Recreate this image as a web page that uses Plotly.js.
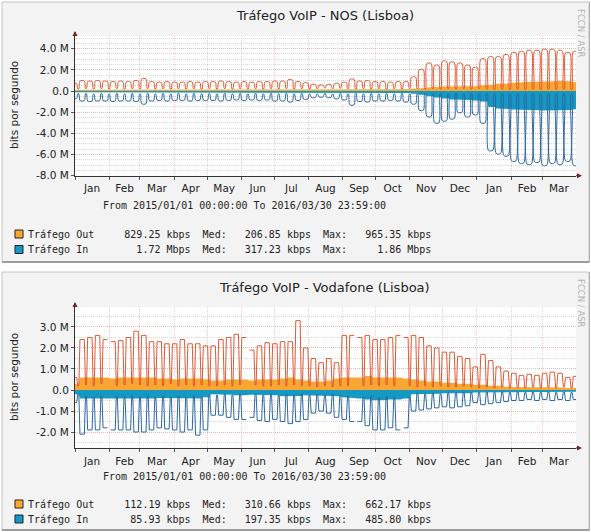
<!DOCTYPE html>
<html><head><meta charset="utf-8">
<script src="https://cdn.plot.ly/plotly-3.0.1.min.js"></script>
<style>html,body{margin:0;padding:0;background:#fff;}#chart{width:591px;height:532px;}</style>
</head><body><div id="chart"></div>
<script>
// ---- week start (Monday) of every week shown ----
const weeks = ['2014-12-29',
 '2015-01-05','2015-01-12','2015-01-19','2015-01-26',
 '2015-02-02','2015-02-09','2015-02-16','2015-02-23',
 '2015-03-02','2015-03-09','2015-03-16','2015-03-23','2015-03-30',
 '2015-04-06','2015-04-13','2015-04-20','2015-04-27',
 '2015-05-04','2015-05-11','2015-05-18','2015-05-25',
 '2015-06-01','2015-06-08','2015-06-15','2015-06-22','2015-06-29',
 '2015-07-06','2015-07-13','2015-07-20','2015-07-27',
 '2015-08-03','2015-08-10','2015-08-17','2015-08-24','2015-08-31',
 '2015-09-07','2015-09-14','2015-09-21','2015-09-28',
 '2015-10-05','2015-10-12','2015-10-19','2015-10-26',
 '2015-11-02','2015-11-09','2015-11-16','2015-11-23','2015-11-30',
 '2015-12-07','2015-12-14','2015-12-21','2015-12-28',
 '2016-01-04','2016-01-11','2016-01-18','2016-01-25',
 '2016-02-01','2016-02-08','2016-02-15','2016-02-22','2016-02-29',
 '2016-03-07','2016-03-14','2016-03-21','2016-03-28'];

// ---- NOS (Mbps) : weekday peak / weekend low of max lines, and average areas ----
const nosOutPeak = [0.7, 0.95,0.9,0.95,0.9, 0.85,0.9,0.85,0.95, 1.15,0.85,0.8,0.85,0.8, 0.8,0.85,0.8,0.85,
 0.85,0.9,0.85,0.8, 0.85,0.8,0.85,0.85,0.9, 0.9,1.05,0.85,0.75, 0.6,0.55,0.6,0.7,0.8, 1.1,0.9,0.95,0.85,
 0.85,0.8,0.85,0.85, 1.3,2.0,2.6,2.4,2.8, 2.7,2.6,2.4,2.2, 3.0,3.2,3.2,3.4, 3.6,3.7,3.8,3.8,3.9, 3.9,3.8,3.6,3.7];
const nosOutLow = [0.2, 0.25,0.2,0.25,0.2, 0.25,0.2,0.25,0.2, 0.25,0.2,0.25,0.2,0.25, 0.2,0.25,0.2,0.25,
 0.2,0.25,0.2,0.25, 0.2,0.25,0.2,0.25,0.2, 0.25,0.2,0.25,0.2, 0.25,0.3,0.25,0.3,0.25, 0.2,0.25,0.2,0.25,
 0.2,0.25,0.2,0.25, 0.25,0.2,0.25,0.2,0.25, 0.2,0.25,0.2,0.25, 0.2,0.15,0.2,0.15, 0.2,0.15,0.2,0.15,0.2, 0.15,0.2,0.15,0.2];
const nosInPeak = [-0.7, -0.9,-0.95,-0.9,-0.9, -0.95,-0.9,-0.9,-0.95, -1.2,-0.9,-0.85,-0.9,-0.85, -0.85,-0.9,-0.85,-0.85,
 -0.85,-0.9,-0.85,-0.8, -0.85,-0.8,-0.85,-0.8,-0.9, -0.9,-1.0,-0.85,-0.75, -0.6,-0.55,-0.6,-0.7,-0.8, -1.3,-0.95,-1.0,-0.9,
 -0.9,-0.85,-0.9,-1.0, -1.2,-1.8,-2.4,-3.0,-2.8, -2.6,-2.0,-2.4,-2.2, -3.0,-5.6,-5.9,-6.1, -6.6,-6.8,-6.9,-6.7,-7.0, -6.8,-6.9,-6.6,-7.0];
const nosInLow = [-0.25, -0.25,-0.3,-0.25,-0.3, -0.25,-0.3,-0.25,-0.3, -0.25,-0.3,-0.25,-0.3,-0.25, -0.3,-0.25,-0.3,-0.25,
 -0.3,-0.25,-0.3,-0.25, -0.3,-0.25,-0.3,-0.25,-0.3, -0.25,-0.3,-0.25,-0.3, -0.3,-0.25,-0.3,-0.25,-0.3, -0.25,-0.3,-0.25,-0.3,
 -0.25,-0.3,-0.25,-0.3, -0.3,-0.25,-0.3,-0.25,-0.3, -0.25,-0.3,-0.25,-0.3, -0.25,-0.3,-0.25,-0.3, -0.25,-0.3,-0.25,-0.3,-0.25, -0.3,-0.25,-0.3,-0.25];
const nosOutAvg = [0.12, 0.15,0.15,0.15,0.15, 0.15,0.15,0.15,0.15, 0.16,0.15,0.15,0.15,0.15, 0.15,0.15,0.15,0.15,
 0.15,0.15,0.15,0.15, 0.15,0.15,0.15,0.15,0.15, 0.15,0.16,0.15,0.14, 0.13,0.12,0.12,0.13,0.14, 0.16,0.15,0.15,0.15,
 0.15,0.15,0.15,0.16, 0.22,0.28,0.34,0.4,0.44, 0.48,0.5,0.48,0.45, 0.55,0.62,0.68,0.72, 0.78,0.82,0.86,0.88,0.9, 0.92,0.965,0.9,0.83];
const nosInAvg = [-0.12, -0.15,-0.15,-0.15,-0.15, -0.15,-0.15,-0.15,-0.15, -0.16,-0.15,-0.15,-0.15,-0.15, -0.15,-0.15,-0.15,-0.15,
 -0.15,-0.15,-0.15,-0.15, -0.15,-0.15,-0.15,-0.15,-0.15, -0.15,-0.16,-0.15,-0.14, -0.13,-0.12,-0.12,-0.13,-0.14, -0.17,-0.16,-0.16,-0.16,
 -0.16,-0.16,-0.17,-0.18, -0.25,-0.35,-0.5,-0.6,-0.7, -0.8,-0.85,-0.85,-0.9, -1.0,-1.5,-1.65,-1.7, -1.75,-1.8,-1.8,-1.82,-1.84, -1.86,-1.85,-1.8,-1.72];

// ---- Vodafone (Mbps) ----
const vodOutPeak = [0.6, 2.4,2.5,2.6,2.4, 2.3,2.35,2.5,2.8, 2.6,2.3,2.3,2.2,2.2, 2.4,2.2,2.2,2.1,
 2.1,2.4,2.5,2.65, 2.5,1.9,2.1,2.25,2.2, 2.3,2.3,3.3,2.0, 1.5,1.3,1.5,1.3,2.6, 2.6,2.5,2.6,2.4,
 2.4,2.5,2.6,2.5, 2.6,2.5,2.1,2.0,1.8, 1.8,1.6,1.5,1.1, 1.7,1.4,1.1,0.9, 0.8,0.7,0.75,0.7,0.8, 0.85,0.8,0.6,0.65];
const vodOutLow = [0.2, 0.25,0.2,0.3,0.25, 0.2,0.25,0.3,0.25, 0.2,0.25,0.2,0.3,0.2, 0.25,0.2,0.25,0.2,
 0.2,0.25,0.2,0.25, 0.2,0.25,0.2,0.2,0.25, 0.2,0.25,0.2,0.2, 0.15,0.2,0.15,0.2,0.2, 0.25,0.2,0.25,0.2,
 0.25,0.2,0.25,0.2, 0.15,0.2,0.15,0.2,0.15, 0.15,0.2,0.15,0.1, 0.15,0.1,0.15,0.1, 0.12,0.1,0.15,0.1,0.12, 0.1,0.15,0.1,0.15];
const vodInPeak = [-0.6, -2.1,-1.9,-1.9,-1.8, -1.9,-1.9,-1.9,-2.0, -2.0,-1.9,-1.8,-1.85,-1.9, -2.0,-1.9,-2.15,-1.9,
 -1.2,-1.2,-1.3,-1.4, -1.4,-1.3,-1.45,-1.5,-1.4, -1.5,-1.6,-1.5,-1.4, -1.1,-1.0,-1.1,-1.3,-1.4, -1.5,-1.5,-1.7,-1.9,
 -1.9,-1.8,-1.9,-1.8, -1.0,-0.95,-0.9,-0.85,-0.8, -0.85,-0.8,-0.75,-0.6, -0.7,-0.65,-0.6,-0.55, -0.5,-0.5,-0.45,-0.5,-0.45, -0.5,-0.45,-0.5,-0.45];
const vodInLow = [-0.2, -0.3,-0.35,-0.3,-0.35, -0.3,-0.35,-0.3,-0.35, -0.3,-0.35,-0.3,-0.35,-0.3, -0.35,-0.3,-0.35,-0.3,
 -0.25,-0.2,-0.25,-0.2, -0.25,-0.2,-0.25,-0.2,-0.25, -0.2,-0.25,-0.2,-0.25, -0.2,-0.25,-0.2,-0.25,-0.3, -0.3,-0.35,-0.3,-0.35,
 -0.3,-0.35,-0.3,-0.35, -0.15,-0.2,-0.15,-0.2,-0.15, -0.15,-0.12,-0.15,-0.12, -0.1,-0.12,-0.1,-0.12, -0.1,-0.12,-0.1,-0.12,-0.1, -0.12,-0.1,-0.12,-0.1];
const vodOutAvg = [0.3, 0.6,0.6,0.62,0.6, 0.55,0.6,0.6,0.6, 0.6,0.6,0.55,0.55,0.5, 0.55,0.55,0.55,0.5,
 0.45,0.45,0.5,0.5, 0.5,0.45,0.5,0.5,0.5, 0.55,0.6,0.5,0.45, 0.4,0.4,0.45,0.55,0.6, 0.6,0.6,0.662,0.6,
 0.6,0.6,0.6,0.55, 0.5,0.45,0.4,0.4,0.35, 0.35,0.3,0.3,0.25, 0.25,0.2,0.2,0.15, 0.15,0.12,0.12,0.12,0.12, 0.12,0.12,0.1,0.112];
const vodInAvg = [-0.2, -0.4,-0.42,-0.4,-0.4, -0.4,-0.4,-0.42,-0.4, -0.4,-0.4,-0.38,-0.4,-0.38, -0.4,-0.4,-0.4,-0.35,
 -0.2,-0.2,-0.22,-0.25, -0.25,-0.22,-0.25,-0.25,-0.25, -0.3,-0.3,-0.28,-0.25, -0.25,-0.25,-0.28,-0.3,-0.35, -0.38,-0.4,-0.45,-0.486,
 -0.48,-0.45,-0.45,-0.4, -0.2,-0.2,-0.18,-0.18,-0.16, -0.16,-0.15,-0.15,-0.12, -0.12,-0.12,-0.1,-0.1, -0.1,-0.1,-0.1,-0.1,-0.1, -0.1,-0.09,-0.09,-0.086];
// periods without data (Vodafone)
const vodGaps = [['2015-01-30 18:00','2015-02-02 06:00'],['2015-06-05 18:00','2015-06-08 06:00'],
 ['2015-09-11 18:00','2015-09-14 06:00'],['2015-10-23 18:00','2015-10-26 06:00']];

// ---- axis tick labels ----
const nosTickVals = [-8,-6,-4,-2,0,2,4];
const nosTickText = ['-8.0 M','-6.0 M','-4.0 M','-2.0 M','0.0','2.0 M','4.0 M'];
const vodTickVals = [-2,-1,0,1,2,3];
const vodTickText = ['-2.0 M','-1.0 M','0.0','1.0 M','2.0 M','3.0 M'];

// ---- texts ----
const nosTitle = 'Tráfego VoIP - NOS (Lisboa)';
const vodTitle = 'Tráfego VoIP - Vodafone (Lisboa)';
const yTitle = 'bits por segundo';
const period = 'From 2015/01/01 00:00:00 To 2016/03/30 23:59:00';
const nosLegOut = 'Tráfego Out     829.25 kbps  Med:   206.85 kbps  Max:   965.35 kbps';
const nosLegIn  = 'Tráfego In        1.72 Mbps  Med:   317.23 kbps  Max:     1.86 Mbps';
const vodLegOut = 'Tráfego Out     112.19 kbps  Med:   310.66 kbps  Max:   662.17 kbps';
const vodLegIn  = 'Tráfego In       85.93 kbps  Med:   197.35 kbps  Max:   485.80 kbps';
const sideText = 'FCCN / ASR';

// ---- helpers ----
function shift(d, days){
  const t = Date.parse(d + 'T00:00:00Z') + days * 86400000;
  return new Date(t).toISOString().slice(0,16).replace('T',' ');
}
function build(hi, lo, gaps){
  let pts = [];
  weeks.forEach((w,i)=>{
    pts.push([shift(w,0.5),hi[i]],[shift(w,4.5),hi[i]],[shift(w,5.5),lo[i]],[shift(w,6.5),lo[i]]);
  });
  (gaps||[]).forEach(([a,b])=>{
    pts = pts.filter(p=>!(p[0]>a && p[0]<b));
    pts.push([a,null]);
  });
  pts.sort((p,q)=>p[0]<q[0]?-1:(p[0]>q[0]?1:0));
  return {x:pts.map(p=>p[0]), y:pts.map(p=>p[1])};
}
const W=591, H=532;
const px = v => v/W, py = v => 1 - v/H;
const mono = s => s.replace(/ /g,'\u00a0');

const C_ORANGE='#F9A632', C_TEAL='#1598C2', C_RED='#DD5A36', C_BLUE='#2B68A2';

function traces(outAvg,inAvg,outPeak,outLow,inPeak,inLow,gaps,xa,ya,shape){
  const a1=build(outAvg,outAvg,gaps), a2=build(inAvg,inAvg,gaps);
  const l1=build(outPeak,outLow,gaps), l2=build(inPeak,inLow,gaps);
  return [
    {x:a1.x,y:a1.y,xaxis:xa,yaxis:ya,type:'scatter',mode:'lines',fill:'tozeroy',fillcolor:C_ORANGE,line:{width:0,color:C_ORANGE}},
    {x:a2.x,y:a2.y,xaxis:xa,yaxis:ya,type:'scatter',mode:'lines',fill:'tozeroy',fillcolor:C_TEAL,line:{width:0,color:C_TEAL}},
    {x:l1.x,y:l1.y,xaxis:xa,yaxis:ya,type:'scatter',mode:'lines',line:{width:1,color:C_RED,shape:shape,smoothing:0.8}},
    {x:l2.x,y:l2.y,xaxis:xa,yaxis:ya,type:'scatter',mode:'lines',line:{width:1,color:C_BLUE,shape:shape,smoothing:0.8}}
  ];
}
const data = [].concat(
  traces(nosOutAvg,nosInAvg,nosOutPeak,nosOutLow,nosInPeak,nosInLow,[], 'x','y','spline'),
  traces(vodOutAvg,vodInAvg,vodOutPeak,vodOutLow,vodInPeak,vodInLow,vodGaps,'x2','y2','linear')
);

const tickFont = {family:'DejaVu Sans', size:10.5, color:'#222'};
function xAxis(anchor){
  return {anchor:anchor, domain:[px(75),px(576)], type:'date', range:['2015-01-01','2016-03-31'],
    tick0:'2015-01-01', dtick:'M1', tickformat:'%b', ticklabelmode:'period',
    ticks:'outside', ticklen:3, tickcolor:'#555', tickfont:tickFont,
    showgrid:true, gridcolor:'rgba(225,160,160,0.55)', griddash:'1px,1px', gridwidth:1,
    showline:true, linecolor:'#333', linewidth:1, zeroline:false, fixedrange:true};
}
function yAxis(anchor, dom, rng, vals, txt){
  return {anchor:anchor, domain:dom, range:rng, tickmode:'array', tickvals:vals, ticktext:txt,
    ticks:'outside', ticklen:3, tickcolor:'#555', tickfont:tickFont,
    showgrid:true, gridcolor:'rgba(225,160,160,0.55)', griddash:'1px,1px',
    minor:{tickmode:'linear', tick0:0, dtick:0.5, showgrid:true, gridcolor:'#d8d8d8', griddash:'1px,1px', ticks:''},
    showline:true, linecolor:'#333', linewidth:1, zeroline:false, fixedrange:true};
}

const shapes = [];
function panel(y0,y1){
  shapes.push({type:'rect',xref:'paper',yref:'paper',x0:px(2),x1:px(589),y0:py(y1),y1:py(y0),fillcolor:'#f3f3f3',line:{color:'#c4c4c4',width:1},layer:'below'});
  shapes.push({type:'line',xref:'paper',yref:'paper',x0:px(2),x1:px(589.5),y0:py(y1),y1:py(y1),line:{color:'#9c9c9c',width:2},layer:'below'});
  shapes.push({type:'line',xref:'paper',yref:'paper',x0:px(589.5),x1:px(589.5),y0:py(y1),y1:py(y0),line:{color:'#b0b0b0',width:1},layer:'below'});
}
function canvas(top,bottom){
  shapes.push({type:'rect',xref:'paper',yref:'paper',x0:px(75),x1:px(576),y0:py(bottom),y1:py(top),fillcolor:'#ffffff',line:{width:0},layer:'below'});
}
function arrows(top,bottom){
  const c='#7a1e1e';
  shapes.push({type:'line',xref:'paper',yref:'paper',x0:px(75),x1:px(75),y0:py(top),y1:py(top-4),line:{color:'#333',width:1}});
  shapes.push({type:'path',xref:'paper',yref:'paper',path:`M ${px(75)} ${py(top-5)} L ${px(72.5)} ${py(top)} L ${px(77.5)} ${py(top)} Z`,fillcolor:c,line:{width:0}});
  shapes.push({type:'line',xref:'paper',yref:'paper',x0:px(576),x1:px(580),y0:py(bottom),y1:py(bottom),line:{color:'#333',width:1}});
  shapes.push({type:'path',xref:'paper',yref:'paper',path:`M ${px(582)} ${py(bottom)} L ${px(577)} ${py(bottom-2.5)} L ${px(577)} ${py(bottom+2.5)} Z`,fillcolor:c,line:{width:0}});
}
function legendBox(yc,color){
  shapes.push({type:'rect',xref:'paper',yref:'paper',x0:px(15),x1:px(23),y0:py(yc+4),y1:py(yc-4),fillcolor:color,line:{color:'#222',width:1}});
}
panel(2,262); panel(272,530);
canvas(36,175.7); canvas(307,448);
arrows(36,175.7); arrows(307,448);
legendBox(234,C_ORANGE); legendBox(249.5,C_TEAL);
legendBox(504,C_ORANGE); legendBox(519,C_TEAL);

const ann = [];
function txt(t,x,y,opts){
  ann.push(Object.assign({text:t,xref:'paper',yref:'paper',x:px(x),y:py(y),showarrow:false,
    xanchor:'left',yanchor:'middle',borderpad:0,borderwidth:0,
    font:{family:'DejaVu Sans',size:10,color:'#222'}},opts||{}));
}
txt(nosTitle,325,15.5,{xanchor:'center',font:{family:'DejaVu Sans',size:13,color:'#222'}});
txt(vodTitle,325,287,{xanchor:'center',font:{family:'DejaVu Sans',size:13,color:'#222'}});
txt(yTitle,14,105,{xanchor:'center',textangle:-90,font:{family:'DejaVu Sans',size:10.5,color:'#222'}});
txt(yTitle,14,377,{xanchor:'center',textangle:-90,font:{family:'DejaVu Sans',size:10.5,color:'#222'}});
const monoFont = {family:'DejaVu Sans Mono',size:10,color:'#222'};
txt(mono(period),103,205.5,{font:monoFont});
txt(mono(period),103,476,{font:monoFont});
txt(mono(nosLegOut),28,234,{font:monoFont});
txt(mono(nosLegIn),28,249.5,{font:monoFont});
txt(mono(vodLegOut),28,504,{font:monoFont});
txt(mono(vodLegIn),28,519,{font:monoFont});
txt(sideText,581,33,{xanchor:'center',textangle:90,font:{family:'DejaVu Sans',size:8.5,color:'#b4b4b4'}});
txt(sideText,581,303,{xanchor:'center',textangle:90,font:{family:'DejaVu Sans',size:8.5,color:'#b4b4b4'}});

const layout = {
  width:W, height:H, autosize:false,
  margin:{l:0,r:0,t:0,b:0,pad:0},
  paper_bgcolor:'#ffffff', plot_bgcolor:'rgba(0,0,0,0)',
  showlegend:false, hovermode:false,
  font:{family:'DejaVu Sans', color:'#222'},
  xaxis:xAxis('y'),
  yaxis:yAxis('x',[py(175.7),py(36)],[-8,5.2],nosTickVals,nosTickText),
  xaxis2:xAxis('y2'),
  yaxis2:yAxis('x2',[py(448),py(307)],[-2.76,3.95],vodTickVals,vodTickText),
  shapes:shapes, annotations:ann
};
Plotly.newPlot('chart', data, layout, {staticPlot:true, displayModeBar:false});
</script></body></html>
